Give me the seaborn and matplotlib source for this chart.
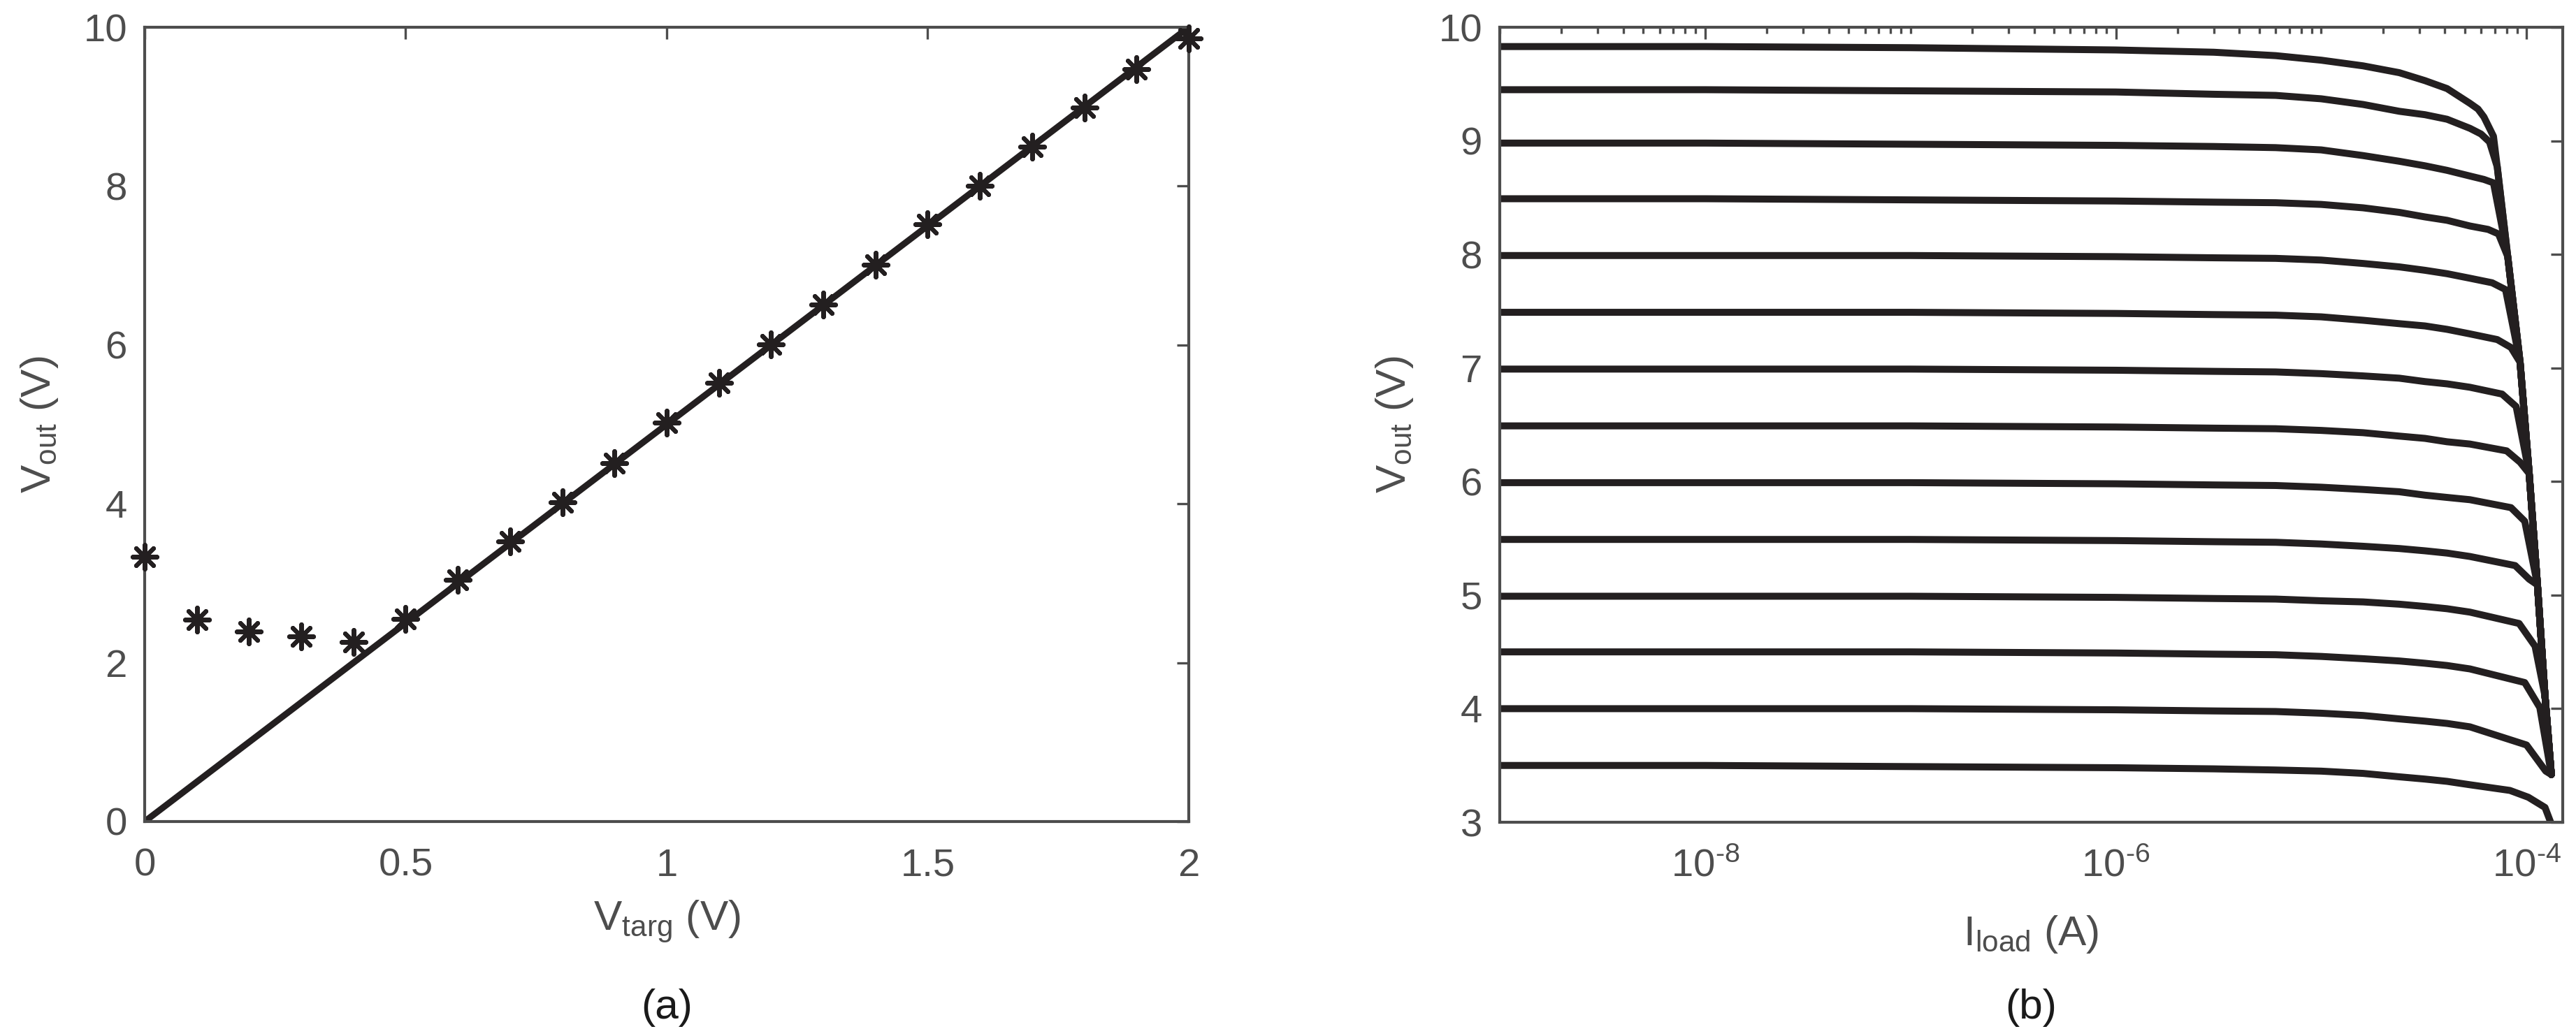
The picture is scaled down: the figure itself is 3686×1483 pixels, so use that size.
import matplotlib
matplotlib.use("Agg")
import matplotlib.pyplot as plt
import seaborn as sns
import pandas as pd
from matplotlib.ticker import FixedLocator, FixedFormatter, NullFormatter

# ------------------------------------------------------------------
# (a) output voltage against target voltage
# ------------------------------------------------------------------
v_targ = [0.0, 0.1, 0.2, 0.3, 0.4, 0.5, 0.6, 0.7, 0.8, 0.9, 1.0,
          1.1, 1.2, 1.3, 1.4, 1.5, 1.6, 1.7, 1.8, 1.9, 2.0]
v_out_meas = [3.33, 2.54, 2.39, 2.33, 2.26, 2.55, 3.04, 3.53, 4.02, 4.51, 5.02,
              5.52, 6.01, 6.51, 7.01, 7.52, 8.00, 8.50, 8.99, 9.47, 9.86]
ideal_targ = [0.0, 2.0]
ideal_out = [0.0, 10.0]

# ------------------------------------------------------------------
# (b) output voltage against load current, one curve per target
# ------------------------------------------------------------------
i_flat = [1e-9, 1e-8, 1e-7, 1e-6, 3e-6, 6e-6, 1e-5, 1.6e-5, 2.4e-5, 3.2e-5, 4.1e-5, 5.3e-5]
v_flat = [
    [9.83, 9.83, 9.82, 9.80, 9.78, 9.75, 9.71, 9.66, 9.60, 9.53, 9.46, 9.33],
    [9.45, 9.45, 9.44, 9.43, 9.41, 9.40, 9.37, 9.32, 9.26, 9.23, 9.19, 9.11],
    [8.98, 8.98, 8.97, 8.96, 8.95, 8.94, 8.92, 8.87, 8.82, 8.78, 8.74, 8.69],
    [8.49, 8.49, 8.48, 8.47, 8.46, 8.455, 8.44, 8.41, 8.37, 8.33, 8.30, 8.25],
    [7.99, 7.99, 7.99, 7.98, 7.97, 7.965, 7.95, 7.92, 7.89, 7.86, 7.83, 7.79],
    [7.49, 7.49, 7.49, 7.48, 7.47, 7.465, 7.45, 7.42, 7.39, 7.37, 7.34, 7.30],
    [6.99, 6.99, 6.99, 6.98, 6.97, 6.965, 6.95, 6.93, 6.91, 6.88, 6.86, 6.83],
    [6.49, 6.49, 6.49, 6.48, 6.47, 6.465, 6.45, 6.43, 6.40, 6.38, 6.35, 6.33],
    [5.99, 5.99, 5.99, 5.98, 5.97, 5.965, 5.95, 5.93, 5.91, 5.88, 5.86, 5.84],
    [5.49, 5.49, 5.49, 5.48, 5.47, 5.465, 5.45, 5.43, 5.41, 5.39, 5.37, 5.34],
    [4.99, 4.99, 4.99, 4.98, 4.97, 4.965, 4.95, 4.94, 4.92, 4.90, 4.88, 4.85],
    [4.50, 4.50, 4.50, 4.49, 4.48, 4.475, 4.46, 4.44, 4.42, 4.40, 4.38, 4.35],
    [4.00, 4.00, 4.00, 3.99, 3.98, 3.975, 3.96, 3.94, 3.91, 3.89, 3.87, 3.84],
    [3.50, 3.50, 3.49, 3.48, 3.47, 3.46, 3.45, 3.43, 3.40, 3.38, 3.36, 3.33],
]
# just before and at the point where each regulated curve breaks down
pre_i = [5.8e-5, 6.0e-5, 6.2e-5, 6.5e-5, 6.8e-5, 7.2e-5, 7.6e-5,
         8.0e-5, 8.4e-5, 8.8e-5, 9.2e-5, 9.8e-5, 1.0e-4]
pre_v = [9.28, 9.06, 8.66, 8.22, 7.75, 7.25, 6.77,
         6.27, 5.77, 5.26, 4.75, 4.23, 3.68]
knee_i = [6.2e-5, 6.6e-5, 6.9e-5, 7.3e-5, 7.9e-5, 8.4e-5, 8.9e-5,
          9.3e-5, 9.8e-5, 1.03e-4, 1.1e-4, 1.16e-4, 1.24e-4]
knee_v = [9.21, 8.99, 8.63, 8.18, 7.69, 7.18, 6.66,
          6.17, 5.65, 5.14, 4.55, 4.01, 3.45]
# common unregulated limit that the curves collapse onto
i_env = [6.9e-5, 7.2e-5, 8.1e-5, 9.3e-5, 1.03e-4, 1.13e-4, 1.23e-4, 1.32e-4]
v_env = [9.04, 8.77, 7.98, 7.05, 6.07, 5.09, 4.11, 3.42]
# lowest curve tail
tail_i = [8.3e-5, 1.02e-4, 1.23e-4, 1.31e-4]
tail_v = [3.28, 3.22, 3.13, 3.00]

rows = []
for k, vs in enumerate(v_flat):
    pts = list(zip(i_flat, vs))
    if k < len(knee_i):
        pts.append((pre_i[k], pre_v[k]))
        pts.append((knee_i[k], knee_v[k]))
        pts += [(i, v) for i, v in zip(i_env, v_env)
                if v < knee_v[k] - 0.02 and i > knee_i[k]]
    else:
        pts += list(zip(tail_i, tail_v))
    rows += [{"I": i, "V": v, "curve": k} for i, v in pts]
load_df = pd.DataFrame(rows)

# ------------------------------------------------------------------
sns.set_theme(style="white")
plt.rcParams["font.family"] = ["Liberation Sans", "DejaVu Sans"]
plt.rcParams["mathtext.fontset"] = "custom"
plt.rcParams["mathtext.rm"] = "Liberation Sans"
plt.rcParams["mathtext.it"] = "Liberation Sans:italic"

GREY = "#4d4d4d"
INK = "#231f20"
TICK_FS = 13.5
LAB_FS = 14.5

fig = plt.figure(figsize=(3687 / 300, 1483 / 300), dpi=300)
ax1 = fig.add_axes([207 / 3687, 1 - 1176 / 1483, 1494 / 3687, 1137 / 1483])
ax2 = fig.add_axes([2146 / 3687, 1 - 1177 / 1483, 1521 / 3687, 1138 / 1483])

# --- panel (a)
sns.lineplot(x=ideal_targ, y=ideal_out, color=INK, lw=2.2, ax=ax1)
sns.scatterplot(x=v_targ, y=v_out_meas, marker=(8, 2, 0), s=70,
                color=INK, edgecolor=INK, linewidth=1.5, clip_on=False,
                zorder=5, ax=ax1)
ax1.set_xlim(0, 2)
ax1.set_ylim(0, 10)
ax1.set_xticks([0, 0.5, 1, 1.5, 2])
ax1.set_xticklabels(["0", "0.5", "1", "1.5", "2"])
ax1.set_yticks([0, 2, 4, 6, 8, 10])
ax1.set_xlabel(r"$\mathregular{V_{targ}}$ (V)", fontsize=LAB_FS, color=GREY, labelpad=5)
ax1.set_ylabel(r"$\mathregular{V_{out}}$ (V)", fontsize=LAB_FS, color=GREY, labelpad=8)

# --- panel (b)
sns.lineplot(data=load_df, x="I", y="V", units="curve", estimator=None,
             sort=False, color=INK, lw=2.4, ax=ax2)
ax2.set_xscale("log")
ax2.set_xlim(1e-9, 1.5e-4)
ax2.set_ylim(3, 10)
ax2.xaxis.set_major_locator(FixedLocator([1e-8, 1e-6, 1e-4]))
ax2.xaxis.set_major_formatter(FixedFormatter(
    ["$\\mathregular{10^{\u20108}}$", "$\\mathregular{10^{\u20106}}$",
     "$\\mathregular{10^{\u20104}}$"]))
minor = [m * 10.0 ** e for e in range(-9, -3) for m in range(1, 10)]
ax2.xaxis.set_minor_locator(FixedLocator(minor))
ax2.xaxis.set_minor_formatter(NullFormatter())
ax2.set_yticks(range(3, 11))
ax2.set_xlabel(r"$\mathregular{I_{load}}$ (A)", fontsize=LAB_FS, color=GREY, labelpad=10)
ax2.set_ylabel(r"$\mathregular{V_{out}}$ (V)", fontsize=LAB_FS, color=GREY, labelpad=8)

for ax in (ax1, ax2):
    ax.tick_params(which="major", direction="in", top=True, right=True,
                   length=4, width=0.8, color=GREY, labelcolor=GREY,
                   labelsize=TICK_FS, pad=6)
    ax.tick_params(axis="x", which="major", pad=9)
    ax.tick_params(which="minor", direction="in", top=True, right=True,
                   length=2.2, width=0.8, color=GREY)
    for sp in ax.spines.values():
        sp.set_color(GREY)
        sp.set_linewidth(1.0)
    ax.grid(False)

fig.text(954 / 3687, 1 - 1442 / 1483, "(a)", ha="center", va="center",
         fontsize=LAB_FS, color="#1a1a1a")
fig.text(2906 / 3687, 1 - 1442 / 1483, "(b)", ha="center", va="center",
         fontsize=LAB_FS, color="#1a1a1a")

fig.savefig("out.png", dpi=300)
